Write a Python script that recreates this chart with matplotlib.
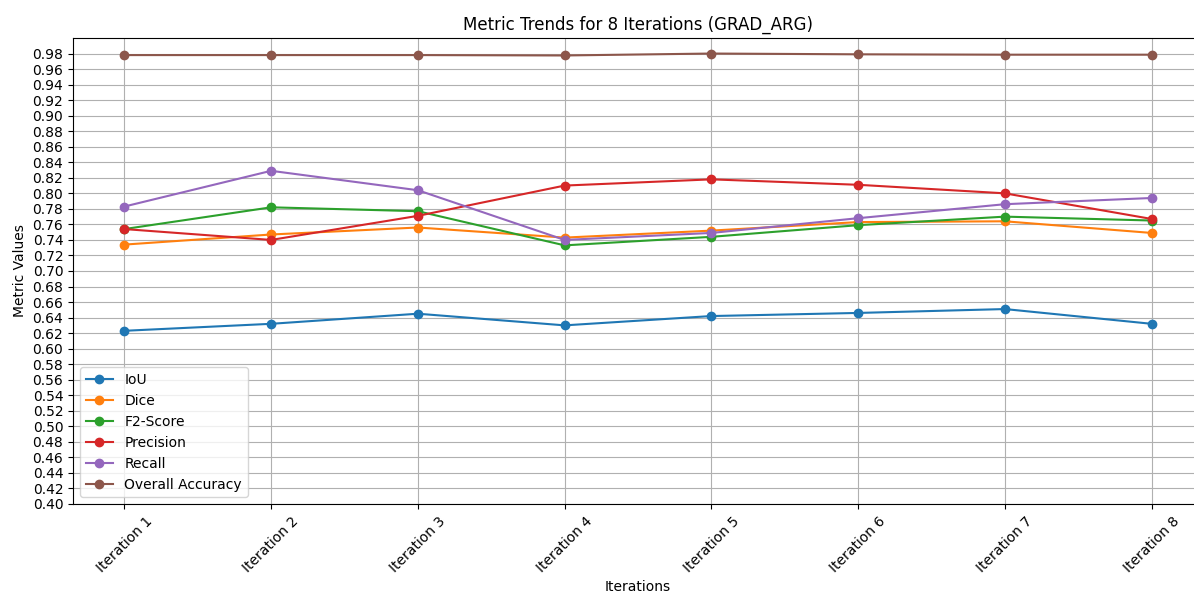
import numpy as np
import matplotlib
matplotlib.use("Agg")
import matplotlib.pyplot as plt

iterations = ["Iteration 1", "Iteration 2", "Iteration 3", "Iteration 4",
              "Iteration 5", "Iteration 6", "Iteration 7", "Iteration 8"]
iou = [0.623, 0.632, 0.645, 0.630, 0.642, 0.646, 0.651, 0.632]
dice = [0.734, 0.747, 0.756, 0.743, 0.752, 0.763, 0.764, 0.749]
f2 = [0.754, 0.782, 0.777, 0.733, 0.744, 0.759, 0.770, 0.765]
precision = [0.754, 0.740, 0.771, 0.810, 0.818, 0.811, 0.800, 0.767]
recall = [0.783, 0.829, 0.804, 0.740, 0.749, 0.768, 0.786, 0.794]
overall = [0.978, 0.978, 0.978, 0.9775, 0.980, 0.979, 0.9785, 0.9785]

series = [("IoU", iou), ("Dice", dice), ("F2-Score", f2),
          ("Precision", precision), ("Recall", recall),
          ("Overall Accuracy", overall)]

W, H = 1194, 595
fig = plt.figure(figsize=(W / 100, H / 100), dpi=100)
left, right, top, bottom = 73, 1203, 38, 504
ax = fig.add_axes([left / W, (H - bottom) / H, (right - left) / W, (bottom - top) / H])

for name, vals in series:
    ax.plot(iterations, vals, marker="o", label=name)

ax.set_ylim(0.4, 1.0)
ax.set_yticks(np.arange(0.40, 0.99, 0.02))
ax.set_yticklabels([f"{v:.2f}" for v in np.arange(0.40, 0.99, 0.02)])
ax.set_title("Metric Trends for 8 Iterations (GRAD_ARG)")
ax.set_xlabel("Iterations")
ax.set_ylabel("Metric Values")
plt.setp(ax.get_xticklabels(), rotation=45)
ax.grid(True)
ax.legend(loc="lower left")

fig.savefig("out.png", dpi=100)
